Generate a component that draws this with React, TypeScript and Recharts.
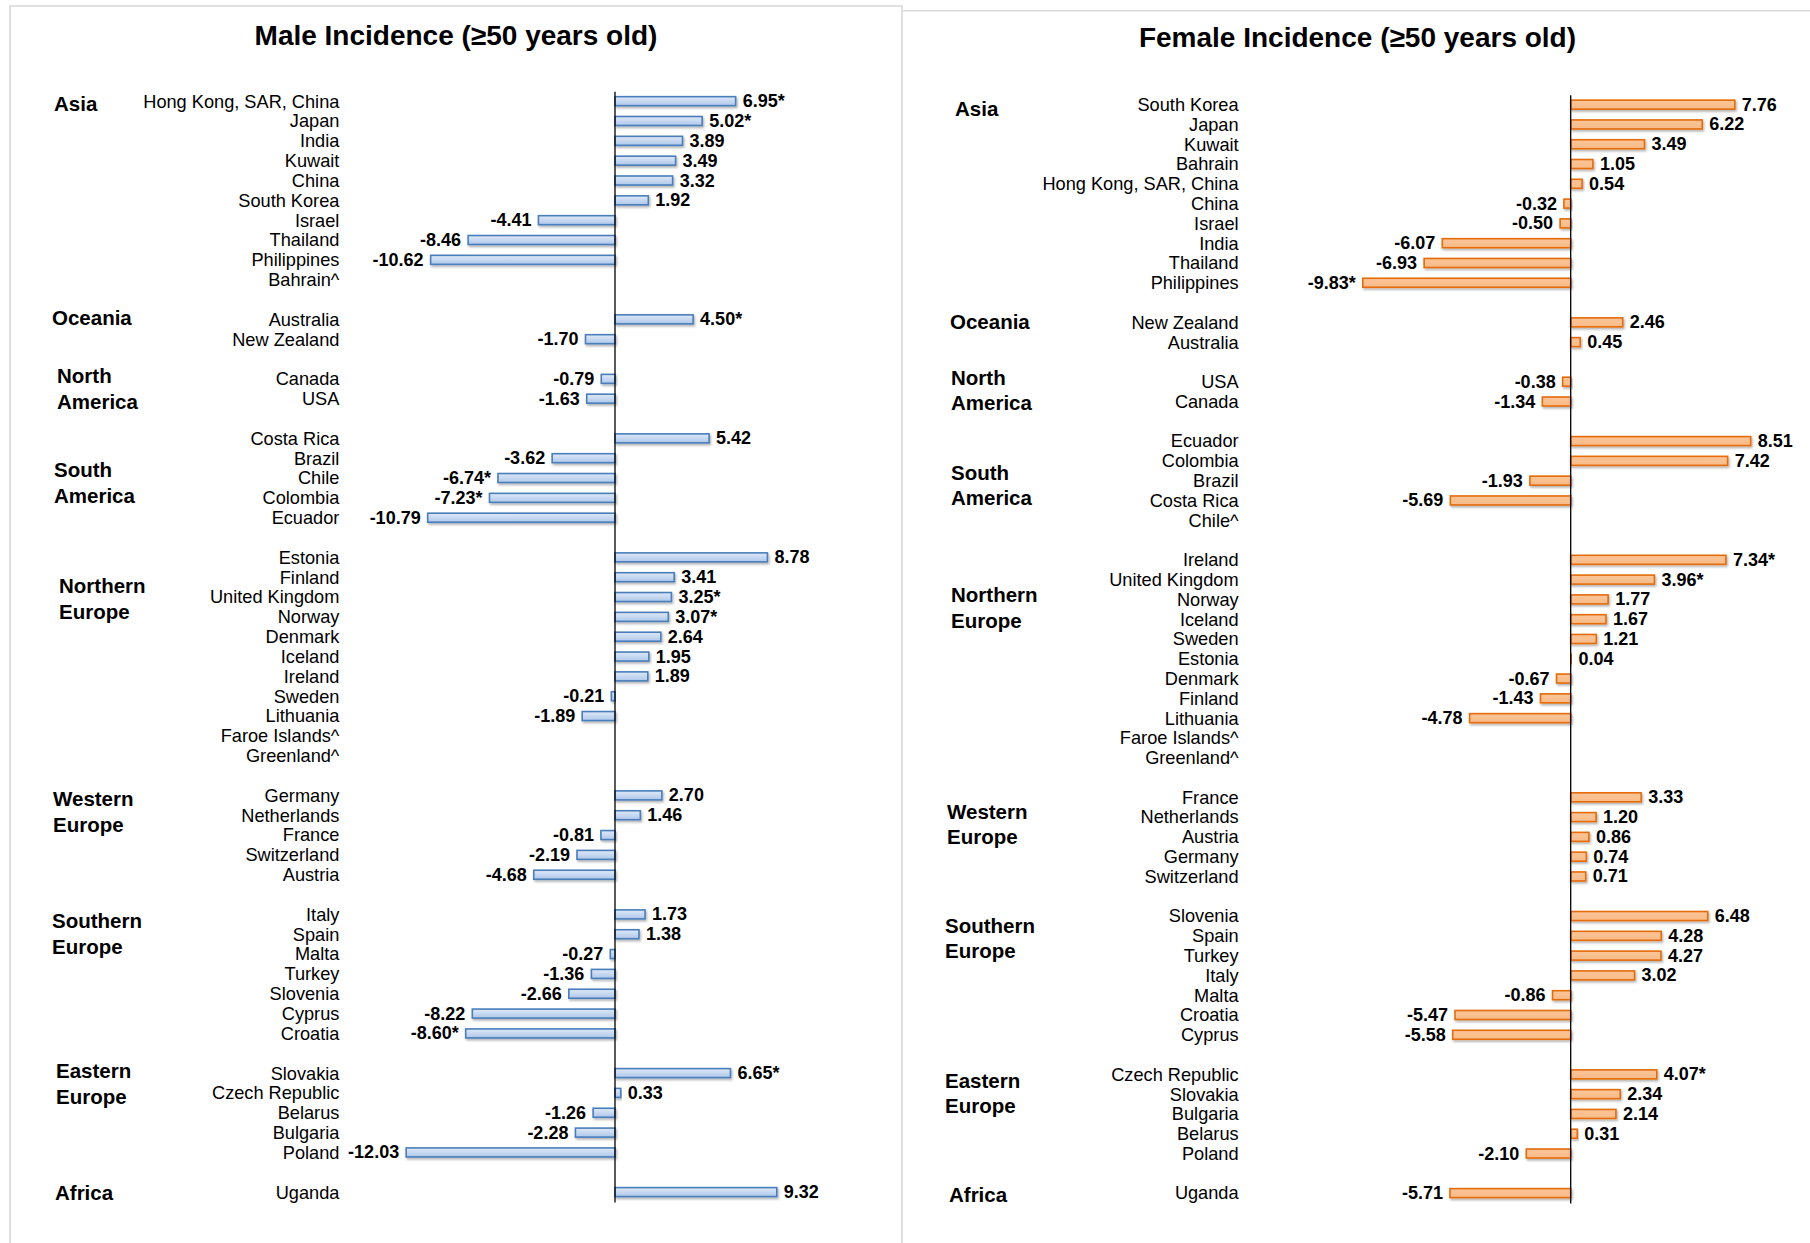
import React from 'react';
import { BarChart, Bar, XAxis, YAxis, ReferenceLine } from 'recharts';

// ---------------- DATA ----------------
const REGIONS = [
  'Asia',
  'Oceania',
  'North America',
  'South America',
  'Northern Europe',
  'Western Europe',
  'Southern Europe',
  'Eastern Europe',
  'Africa',
];

const maleCountries: string[][] = [
  ['Hong Kong, SAR, China', 'Japan', 'India', 'Kuwait', 'China', 'South Korea', 'Israel', 'Thailand', 'Philippines', 'Bahrain^'],
  ['Australia', 'New Zealand'],
  ['Canada', 'USA'],
  ['Costa Rica', 'Brazil', 'Chile', 'Colombia', 'Ecuador'],
  ['Estonia', 'Finland', 'United Kingdom', 'Norway', 'Denmark', 'Iceland', 'Ireland', 'Sweden', 'Lithuania', 'Faroe Islands^', 'Greenland^'],
  ['Germany', 'Netherlands', 'France', 'Switzerland', 'Austria'],
  ['Italy', 'Spain', 'Malta', 'Turkey', 'Slovenia', 'Cyprus', 'Croatia'],
  ['Slovakia', 'Czech Republic', 'Belarus', 'Bulgaria', 'Poland'],
  ['Uganda'],
];

const maleValues: (number | null)[][] = [
  [6.95, 5.02, 3.89, 3.49, 3.32, 1.92, -4.41, -8.46, -10.62, null],
  [4.5, -1.7],
  [-0.79, -1.63],
  [5.42, -3.62, -6.74, -7.23, -10.79],
  [8.78, 3.41, 3.25, 3.07, 2.64, 1.95, 1.89, -0.21, -1.89, null, null],
  [2.7, 1.46, -0.81, -2.19, -4.68],
  [1.73, 1.38, -0.27, -1.36, -2.66, -8.22, -8.6],
  [6.65, 0.33, -1.26, -2.28, -12.03],
  [9.32],
];

const maleSignificant = ['Hong Kong, SAR, China', 'Japan', 'Australia', 'Chile', 'Colombia', 'United Kingdom', 'Norway', 'Croatia', 'Slovakia'];

const femaleCountries: string[][] = [
  ['South Korea', 'Japan', 'Kuwait', 'Bahrain', 'Hong Kong, SAR, China', 'China', 'Israel', 'India', 'Thailand', 'Philippines'],
  ['New Zealand', 'Australia'],
  ['USA', 'Canada'],
  ['Ecuador', 'Colombia', 'Brazil', 'Costa Rica', 'Chile^'],
  ['Ireland', 'United Kingdom', 'Norway', 'Iceland', 'Sweden', 'Estonia', 'Denmark', 'Finland', 'Lithuania', 'Faroe Islands^', 'Greenland^'],
  ['France', 'Netherlands', 'Austria', 'Germany', 'Switzerland'],
  ['Slovenia', 'Spain', 'Turkey', 'Italy', 'Malta', 'Croatia', 'Cyprus'],
  ['Czech Republic', 'Slovakia', 'Bulgaria', 'Belarus', 'Poland'],
  ['Uganda'],
];

const femaleValues: (number | null)[][] = [
  [7.76, 6.22, 3.49, 1.05, 0.54, -0.32, -0.5, -6.07, -6.93, -9.83],
  [2.46, 0.45],
  [-0.38, -1.34],
  [8.51, 7.42, -1.93, -5.69, null],
  [7.34, 3.96, 1.77, 1.67, 1.21, 0.04, -0.67, -1.43, -4.78, null, null],
  [3.33, 1.2, 0.86, 0.74, 0.71],
  [6.48, 4.28, 4.27, 3.02, -0.86, -5.47, -5.58],
  [4.07, 2.34, 2.14, 0.31, -2.1],
  [-5.71],
];

const femaleSignificant = ['Philippines', 'Ireland', 'United Kingdom', 'Czech Republic'];

const TITLES = ['Male Incidence (\u226550 years old)', 'Female Incidence (\u226550 years old)'];

// ---------------- LAYOUT (positions / styles) ----------------
const FONT = '"Liberation Sans", Arial, Helvetica, sans-serif';
const CHART_W = 905;
const CHART_H = 1243;

const maleLayout = {
  left: 0,
  domain: [-15, 11] as [number, number],
  plotLeft: 354.6,
  plotWidth: 26 * 17.36,
  top: 91.67,
  band: 19.835,
  labelX: 339.4,
  regionX: [54, 52, 57, 54, 59, 53, 52, 56, 55],
  regionDy: [2.3, -2.3, -3.5, 30.4, 28, 2.3, 5.8, -3.5, 0],
  lineGap: 26.2,
  fill: 'url(#maleGrad)',
  stroke: '#4a7ebb',
};

const femaleLayout = {
  left: 905,
  domain: [-11, 10] as [number, number],
  plotLeft: 1570.7 - 905 - 11 * 21.15,
  plotWidth: 21 * 21.15,
  top: 95.15,
  band: 19.79,
  labelX: 333.6,
  regionX: [50, 45, 46, 46, 46, 42, 40, 40, 44],
  regionDy: [3.5, -1.2, -4.6, 31, 34.6, 13.9, 9.2, 5.8, 1.2],
  lineGap: 25.2,
  fill: 'url(#femaleGrad)',
  stroke: '#e46c0a',
};

type Row = {
  key: string;
  name: string;
  value: number | null;
  label: string;
  region: number;
  first: boolean;
};

function buildRows(countries: string[][], values: (number | null)[][], significant: string[]): Row[] {
  const rows: Row[] = [];
  countries.forEach((list, r) => {
    if (r > 0) rows.push({ key: `gap-${r}`, name: '', value: null, label: '', region: r, first: false });
    list.forEach((name, i) => {
      const v = values[r][i];
      rows.push({
        key: `${r}-${name}`,
        name,
        value: v,
        label: v == null ? '' : v.toFixed(2) + (significant.includes(name) ? '*' : ''),
        region: r,
        first: i === 0,
      });
    });
  });
  return rows;
}

const maleRows = buildRows(maleCountries, maleValues, maleSignificant);
const femaleRows = buildRows(femaleCountries, femaleValues, femaleSignificant);

function Panel({ rows, layout }: { rows: Row[]; layout: typeof maleLayout }) {
  const plotHeight = rows.length * layout.band;
  const marginBottom = CHART_H - layout.top - plotHeight;
  const marginRight = CHART_W - layout.plotLeft - layout.plotWidth;
  const byKey = new Map(rows.map((r) => [r.key, r]));

  const renderTick = (props: any) => {
    const { y, payload } = props;
    const row = byKey.get(payload.value);
    if (!row) return <g />;
    const parts: React.ReactNode[] = [];
    if (row.name) {
      parts.push(
        <text
          key="n"
          x={layout.labelX}
          y={y}
          textAnchor="end"
          dominantBaseline="central"
          fontFamily={FONT}
          fontSize={18.2}
          fill="#000"
        >
          {row.name}
        </text>
      );
    }
    if (row.first) {
      const words = REGIONS[row.region].split(' ');
      words.forEach((w, i) => {
        parts.push(
          <text
            key={`r${i}`}
            x={layout.regionX[row.region]}
            y={y + layout.regionDy[row.region] + i * layout.lineGap}
            textAnchor="start"
            dominantBaseline="central"
            fontFamily={FONT}
            fontSize={20.5}
            fontWeight="bold"
            fill="#000"
          >
            {w}
          </text>
        );
      });
    }
    return <g>{parts}</g>;
  };

  const renderBar = (props: any) => {
    const { x, y, width, height, payload } = props;
    if (!payload || payload.value == null || !isFinite(width) || !isFinite(x)) return <g />;
    const left = Math.min(x, x + width);
    const right = Math.max(x, x + width);
    const neg = payload.value < 0;
    const cy = y + height / 2;
    return (
      <g>
        <rect
          x={left}
          y={y}
          width={Math.max(right - left, 0.5)}
          height={height}
          fill={layout.fill}
          stroke={layout.stroke}
          strokeWidth={1.6}
          filter="url(#barShadow)"
        />
        <text
          x={neg ? left - 7 : right + 7}
          y={cy}
          textAnchor={neg ? 'end' : 'start'}
          dominantBaseline="central"
          fontFamily={FONT}
          fontSize={18}
          fontWeight="bold"
          fill="#000"
        >
          {payload.label}
        </text>
      </g>
    );
  };

  return (
    <div style={{ position: 'absolute', left: layout.left, top: 0, width: CHART_W, height: CHART_H }}>
      <BarChart
        width={CHART_W}
        height={CHART_H}
        data={rows}
        layout="vertical"
        margin={{ top: layout.top, right: marginRight, bottom: marginBottom, left: 0 }}
        barCategoryGap={0}
        style={{ overflow: 'visible' }}
      >
        <XAxis type="number" domain={layout.domain} hide />
        <YAxis
          type="category"
          dataKey="key"
          width={layout.plotLeft}
          interval={0}
          tickLine={false}
          axisLine={false}
          tickSize={0}
          tickMargin={0}
          tick={renderTick}
        />
        <Bar dataKey="value" barSize={9} isAnimationActive={false} shape={renderBar} />
        <ReferenceLine x={0} stroke="#000" strokeWidth={1.3} />
      </BarChart>
    </div>
  );
}

export default function App() {
  return (
    <div
      style={{
        position: 'absolute',
        left: 0,
        top: 0,
        width: 1810,
        height: 1243,
        overflow: 'hidden',
        background: '#fff',
      }}
    >
      <svg width={1810} height={1243} style={{ position: 'absolute', left: 0, top: 0 }}>
        <defs>
          <linearGradient id="maleGrad" x1="0" y1="0" x2="0" y2="1">
            <stop offset="0%" stopColor="#dfe9f7" />
            <stop offset="100%" stopColor="#aec7ea" />
          </linearGradient>
          <linearGradient id="femaleGrad" x1="0" y1="0" x2="0" y2="1">
            <stop offset="0%" stopColor="#fbc598" />
            <stop offset="100%" stopColor="#f9bb88" />
          </linearGradient>
          <filter id="barShadow" x="-10%" y="-50%" width="130%" height="220%">
            <feDropShadow dx="1.2" dy="1.8" stdDeviation="1" floodColor="#000" floodOpacity="0.3" />
          </filter>
        </defs>
        <rect x={10} y={6} width={892} height={1300} fill="none" stroke="#d9d9d9" strokeWidth={1.6} />
        <line x1={903} y1={10.8} x2={1810} y2={10.8} stroke="#d9d9d9" strokeWidth={1.6} />
        <text x={456} y={45} textAnchor="middle" fontFamily={FONT} fontSize={28} fontWeight="bold" fill="#000">
          {TITLES[0]}
        </text>
        <text x={1357.5} y={47} textAnchor="middle" fontFamily={FONT} fontSize={28} fontWeight="bold" fill="#000">
          {TITLES[1]}
        </text>
      </svg>
      <Panel rows={maleRows} layout={maleLayout} />
      <Panel rows={femaleRows} layout={femaleLayout} />
    </div>
  );
}
